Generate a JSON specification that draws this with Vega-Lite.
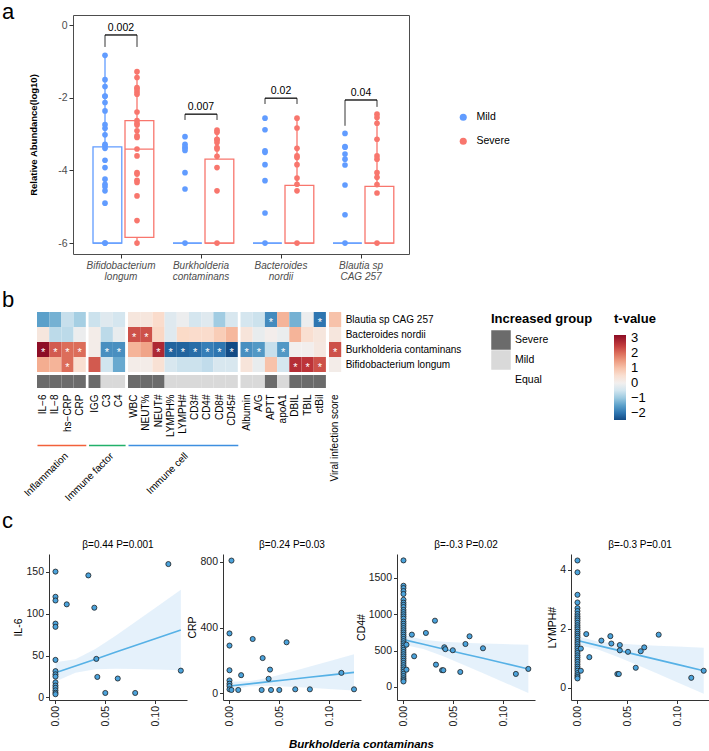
{
"$schema": "https://vega.github.io/schema/vega-lite/v6.json",
"padding": {"left": 2, "top": 0, "right": 0, "bottom": 0},
"autosize": {"type": "pad"},
"config": {
 "font": "Liberation Sans, Arial, sans-serif",
 "view": {"stroke": null},
 "axis": {"grid": false},
 "title": {"color": "black", "fontWeight": "normal"},
 "legend": {"padding": 0}
},
"datasets": {
 "pts": [
  {"t":"Bi","g":"Mild","v":-0.83},{"t":"Bi","g":"Mild","v":-1.5},{"t":"Bi","g":"Mild","v":-1.69},{"t":"Bi","g":"Mild","v":-1.95},{"t":"Bi","g":"Mild","v":-1.96},{"t":"Bi","g":"Mild","v":-2.13},{"t":"Bi","g":"Mild","v":-2.36},{"t":"Bi","g":"Mild","v":-2.74},{"t":"Bi","g":"Mild","v":-2.84},{"t":"Bi","g":"Mild","v":-3.02},{"t":"Bi","g":"Mild","v":-3.28},{"t":"Bi","g":"Mild","v":-3.32},{"t":"Bi","g":"Mild","v":-3.39},{"t":"Bi","g":"Mild","v":-3.72},{"t":"Bi","g":"Mild","v":-3.92},{"t":"Bi","g":"Mild","v":-4.24},{"t":"Bi","g":"Mild","v":-4.38},{"t":"Bi","g":"Mild","v":-4.45},{"t":"Bi","g":"Mild","v":-4.56},{"t":"Bi","g":"Mild","v":-4.9},{"t":"Bi","g":"Mild","v":-6},{"t":"Bi","g":"Mild","v":-6},
  {"t":"Bi","g":"Severe","v":-1.28},{"t":"Bi","g":"Severe","v":-1.44},{"t":"Bi","g":"Severe","v":-1.72},{"t":"Bi","g":"Severe","v":-1.76},{"t":"Bi","g":"Severe","v":-1.83},{"t":"Bi","g":"Severe","v":-1.9},{"t":"Bi","g":"Severe","v":-2.39},{"t":"Bi","g":"Severe","v":-2.63},{"t":"Bi","g":"Severe","v":-2.71},{"t":"Bi","g":"Severe","v":-2.75},{"t":"Bi","g":"Severe","v":-2.91},{"t":"Bi","g":"Severe","v":-3.05},{"t":"Bi","g":"Severe","v":-3.09},{"t":"Bi","g":"Severe","v":-3.41},{"t":"Bi","g":"Severe","v":-3.6},{"t":"Bi","g":"Severe","v":-4.06},{"t":"Bi","g":"Severe","v":-4.1},{"t":"Bi","g":"Severe","v":-4.27},{"t":"Bi","g":"Severe","v":-4.33},{"t":"Bi","g":"Severe","v":-4.7},{"t":"Bi","g":"Severe","v":-5.38},{"t":"Bi","g":"Severe","v":-6},
  {"t":"Bu","g":"Mild","v":-3.07},{"t":"Bu","g":"Mild","v":-3.28},{"t":"Bu","g":"Mild","v":-3.35},{"t":"Bu","g":"Mild","v":-3.39},{"t":"Bu","g":"Mild","v":-3.45},{"t":"Bu","g":"Mild","v":-4.06},{"t":"Bu","g":"Mild","v":-4.51},{"t":"Bu","g":"Mild","v":-6},
  {"t":"Bu","g":"Severe","v":-2.89},{"t":"Bu","g":"Severe","v":-2.95},{"t":"Bu","g":"Severe","v":-3.14},{"t":"Bu","g":"Severe","v":-3.16},{"t":"Bu","g":"Severe","v":-3.23},{"t":"Bu","g":"Severe","v":-3.37},{"t":"Bu","g":"Severe","v":-3.41},{"t":"Bu","g":"Severe","v":-3.61},{"t":"Bu","g":"Severe","v":-3.92},{"t":"Bu","g":"Severe","v":-4.56},{"t":"Bu","g":"Severe","v":-6},
  {"t":"Ba","g":"Mild","v":-2.56},{"t":"Ba","g":"Mild","v":-2.88},{"t":"Ba","g":"Mild","v":-3.46},{"t":"Ba","g":"Mild","v":-3.5},{"t":"Ba","g":"Mild","v":-3.84},{"t":"Ba","g":"Mild","v":-4.28},{"t":"Ba","g":"Mild","v":-5.17},{"t":"Ba","g":"Mild","v":-6},
  {"t":"Ba","g":"Severe","v":-2.56},{"t":"Ba","g":"Severe","v":-2.83},{"t":"Ba","g":"Severe","v":-3.39},{"t":"Ba","g":"Severe","v":-3.6},{"t":"Ba","g":"Severe","v":-3.64},{"t":"Ba","g":"Severe","v":-3.84},{"t":"Ba","g":"Severe","v":-4.21},{"t":"Ba","g":"Severe","v":-4.38},{"t":"Ba","g":"Severe","v":-4.56},{"t":"Ba","g":"Severe","v":-6},
  {"t":"Bl","g":"Mild","v":-2.98},{"t":"Bl","g":"Mild","v":-3.34},{"t":"Bl","g":"Mild","v":-3.36},{"t":"Bl","g":"Mild","v":-3.55},{"t":"Bl","g":"Mild","v":-3.69},{"t":"Bl","g":"Mild","v":-3.85},{"t":"Bl","g":"Mild","v":-4.4},{"t":"Bl","g":"Mild","v":-5.22},{"t":"Bl","g":"Mild","v":-6},
  {"t":"Bl","g":"Severe","v":-2.45},{"t":"Bl","g":"Severe","v":-2.54},{"t":"Bl","g":"Severe","v":-2.7},{"t":"Bl","g":"Severe","v":-3.14},{"t":"Bl","g":"Severe","v":-3.6},{"t":"Bl","g":"Severe","v":-3.69},{"t":"Bl","g":"Severe","v":-4.06},{"t":"Bl","g":"Severe","v":-4.19},{"t":"Bl","g":"Severe","v":-4.39},{"t":"Bl","g":"Severe","v":-4.62},{"t":"Bl","g":"Severe","v":-6}
 ],
 "box": [
  {"t":"Bi","g":"Mild","lo":-6,"q1":-6,"med":-6,"q3":-3.35,"hi":-0.85},
  {"t":"Bi","g":"Severe","lo":-6,"q1":-5.84,"med":-3.41,"q3":-2.63,"hi":-1.27},
  {"t":"Bu","g":"Mild","lo":-6,"q1":-6,"med":-6,"q3":-6,"hi":-6},
  {"t":"Bu","g":"Severe","lo":-6,"q1":-6,"med":-6,"q3":-3.69,"hi":-2.86},
  {"t":"Ba","g":"Mild","lo":-6,"q1":-6,"med":-6,"q3":-6,"hi":-6},
  {"t":"Ba","g":"Severe","lo":-6,"q1":-6,"med":-6,"q3":-4.41,"hi":-2.54},
  {"t":"Bl","g":"Mild","lo":-6,"q1":-6,"med":-6,"q3":-6,"hi":-6},
  {"t":"Bl","g":"Severe","lo":-6,"q1":-6,"med":-6,"q3":-4.44,"hi":-2.43}
 ],
 "brk": [
  {"t":"Bi","g":"Mild","top":-0.27,"bot":-0.6,"p":"0.002"},{"t":"Bi","g":"Severe","top":-0.27,"bot":-0.6,"p":"0.002"},
  {"t":"Bu","g":"Mild","top":-2.45,"bot":-2.61,"p":"0.007"},{"t":"Bu","g":"Severe","top":-2.45,"bot":-2.61,"p":"0.007"},
  {"t":"Ba","g":"Mild","top":-2.01,"bot":-2.17,"p":"0.02"},{"t":"Ba","g":"Severe","top":-2.01,"bot":-2.17,"p":"0.02"},
  {"t":"Bl","g":"Mild","top":-2.06,"bot":-2.77,"p":"0.04"},{"t":"Bl","g":"Severe","top":-2.06,"bot":-2.25,"p":"0.04"}
 ],
 "heat": [
  {"b":1,"v":"IL−6","s":"Bl","t":-1.5,"st":0},{"b":1,"v":"IL−6","s":"Ba","t":0.3,"st":0},{"b":1,"v":"IL−6","s":"Bu","t":3.2,"st":1},{"b":1,"v":"IL−6","s":"Bi","t":1.3,"st":0},
  {"b":1,"v":"IL−8","s":"Bl","t":-1.3,"st":0},{"b":1,"v":"IL−8","s":"Ba","t":-0.7,"st":0},{"b":1,"v":"IL−8","s":"Bu","t":2.2,"st":1},{"b":1,"v":"IL−8","s":"Bi","t":1.2,"st":0},
  {"b":1,"v":"hs−CRP","s":"Bl","t":-0.6,"st":0},{"b":1,"v":"hs−CRP","s":"Ba","t":-0.7,"st":0},{"b":1,"v":"hs−CRP","s":"Bu","t":2.0,"st":1},{"b":1,"v":"hs−CRP","s":"Bi","t":2.0,"st":1},
  {"b":1,"v":"CRP","s":"Bl","t":-0.9,"st":0},{"b":1,"v":"CRP","s":"Ba","t":-0.1,"st":0},{"b":1,"v":"CRP","s":"Bu","t":2.0,"st":1},{"b":1,"v":"CRP","s":"Bi","t":0.5,"st":0},
  {"b":2,"v":"IGG","s":"Bl","t":-0.55,"st":0},{"b":2,"v":"IGG","s":"Ba","t":0.1,"st":0},{"b":2,"v":"IGG","s":"Bu","t":0.1,"st":0},{"b":2,"v":"IGG","s":"Bi","t":2.2,"st":0},
  {"b":2,"v":"C3","s":"Bl","t":-0.3,"st":0},{"b":2,"v":"C3","s":"Ba","t":-0.7,"st":0},{"b":2,"v":"C3","s":"Bu","t":-1.7,"st":1},{"b":2,"v":"C3","s":"Bi","t":-0.5,"st":0},
  {"b":2,"v":"C4","s":"Bl","t":-0.45,"st":0},{"b":2,"v":"C4","s":"Ba","t":-0.15,"st":0},{"b":2,"v":"C4","s":"Bu","t":-1.7,"st":1},{"b":2,"v":"C4","s":"Bi","t":-1.4,"st":0},
  {"b":3,"v":"WBC","s":"Bl","t":0.3,"st":0},{"b":3,"v":"WBC","s":"Ba","t":2.3,"st":1},{"b":3,"v":"WBC","s":"Bu","t":1.2,"st":0},{"b":3,"v":"WBC","s":"Bi","t":0.1,"st":0},
  {"b":3,"v":"NEUT%","s":"Bl","t":0.3,"st":0},{"b":3,"v":"NEUT%","s":"Ba","t":2.3,"st":1},{"b":3,"v":"NEUT%","s":"Bu","t":1.4,"st":0},{"b":3,"v":"NEUT%","s":"Bi","t":0.1,"st":0},
  {"b":3,"v":"NEUT#","s":"Bl","t":0.6,"st":0},{"b":3,"v":"NEUT#","s":"Ba","t":0.7,"st":0},{"b":3,"v":"NEUT#","s":"Bu","t":2.8,"st":1},{"b":3,"v":"NEUT#","s":"Bi","t":0.45,"st":0},
  {"b":3,"v":"LYMPH%","s":"Bl","t":-0.3,"st":0},{"b":3,"v":"LYMPH%","s":"Ba","t":-0.3,"st":0},{"b":3,"v":"LYMPH%","s":"Bu","t":-2.2,"st":1},{"b":3,"v":"LYMPH%","s":"Bi","t":-0.4,"st":0},
  {"b":3,"v":"LYMPH#","s":"Bl","t":-0.1,"st":0},{"b":3,"v":"LYMPH#","s":"Ba","t":0.65,"st":0},{"b":3,"v":"LYMPH#","s":"Bu","t":-2.2,"st":1},{"b":3,"v":"LYMPH#","s":"Bi","t":-0.55,"st":0},
  {"b":3,"v":"CD3#","s":"Bl","t":-0.45,"st":0},{"b":3,"v":"CD3#","s":"Ba","t":0.6,"st":0},{"b":3,"v":"CD3#","s":"Bu","t":-2.1,"st":1},{"b":3,"v":"CD3#","s":"Bi","t":-0.55,"st":0},
  {"b":3,"v":"CD4#","s":"Bl","t":-0.3,"st":0},{"b":3,"v":"CD4#","s":"Ba","t":0.6,"st":0},{"b":3,"v":"CD4#","s":"Bu","t":-1.9,"st":1},{"b":3,"v":"CD4#","s":"Bi","t":-0.65,"st":0},
  {"b":3,"v":"CD8#","s":"Bl","t":-0.95,"st":0},{"b":3,"v":"CD8#","s":"Ba","t":0.85,"st":0},{"b":3,"v":"CD8#","s":"Bu","t":-2.0,"st":1},{"b":3,"v":"CD8#","s":"Bi","t":-0.4,"st":0},
  {"b":3,"v":"CD45#","s":"Bl","t":-0.4,"st":0},{"b":3,"v":"CD45#","s":"Ba","t":1.15,"st":0},{"b":3,"v":"CD45#","s":"Bu","t":-2.47,"st":1},{"b":3,"v":"CD45#","s":"Bi","t":-0.4,"st":0},
  {"b":4,"v":"Albumin","s":"Bl","t":-0.45,"st":0},{"b":4,"v":"Albumin","s":"Ba","t":0.35,"st":0},{"b":4,"v":"Albumin","s":"Bu","t":-1.7,"st":1},{"b":4,"v":"Albumin","s":"Bi","t":0.35,"st":0},
  {"b":4,"v":"A/G","s":"Bl","t":-0.55,"st":0},{"b":4,"v":"A/G","s":"Ba","t":-0.15,"st":0},{"b":4,"v":"A/G","s":"Bu","t":-1.6,"st":1},{"b":4,"v":"A/G","s":"Bi","t":-0.15,"st":0},
  {"b":4,"v":"APTT","s":"Bl","t":-1.75,"st":1},{"b":4,"v":"APTT","s":"Ba","t":0.05,"st":0},{"b":4,"v":"APTT","s":"Bu","t":-0.6,"st":0},{"b":4,"v":"APTT","s":"Bi","t":1.0,"st":0},
  {"b":4,"v":"apoA1","s":"Bl","t":1.2,"st":0},{"b":4,"v":"apoA1","s":"Ba","t":-0.12,"st":0},{"b":4,"v":"apoA1","s":"Bu","t":-1.6,"st":1},{"b":4,"v":"apoA1","s":"Bi","t":-0.45,"st":0},
  {"b":4,"v":"DBIL","s":"Bl","t":-1.3,"st":0},{"b":4,"v":"DBIL","s":"Ba","t":1.2,"st":0},{"b":4,"v":"DBIL","s":"Bu","t":0.0,"st":0},{"b":4,"v":"DBIL","s":"Bi","t":2.7,"st":1},
  {"b":4,"v":"TBIL","s":"Bl","t":-0.1,"st":0},{"b":4,"v":"TBIL","s":"Ba","t":0.5,"st":0},{"b":4,"v":"TBIL","s":"Bu","t":0.02,"st":0},{"b":4,"v":"TBIL","s":"Bi","t":2.6,"st":1},
  {"b":4,"v":"ctBil","s":"Bl","t":-2.0,"st":1},{"b":4,"v":"ctBil","s":"Ba","t":0.3,"st":0},{"b":4,"v":"ctBil","s":"Bu","t":0.25,"st":0},{"b":4,"v":"ctBil","s":"Bi","t":2.3,"st":1},
  {"b":5,"v":"Viral infection score","s":"Bl","t":1.0,"st":0},{"b":5,"v":"Viral infection score","s":"Ba","t":0.3,"st":0},{"b":5,"v":"Viral infection score","s":"Bu","t":2.3,"st":1},{"b":5,"v":"Viral infection score","s":"Bi","t":0.1,"st":0}
 ],
 "ann": [
  {"b":1,"v":"IL−6","s":"annot","g":"Severe"},{"b":1,"v":"IL−8","s":"annot","g":"Severe"},{"b":1,"v":"hs−CRP","s":"annot","g":"Severe"},{"b":1,"v":"CRP","s":"annot","g":"Severe"},
  {"b":2,"v":"IGG","s":"annot","g":"Severe"},{"b":2,"v":"C3","s":"annot","g":"Mild"},{"b":2,"v":"C4","s":"annot","g":"Mild"},
  {"b":3,"v":"WBC","s":"annot","g":"Severe"},{"b":3,"v":"NEUT%","s":"annot","g":"Severe"},{"b":3,"v":"NEUT#","s":"annot","g":"Severe"},{"b":3,"v":"LYMPH%","s":"annot","g":"Mild"},{"b":3,"v":"LYMPH#","s":"annot","g":"Mild"},{"b":3,"v":"CD3#","s":"annot","g":"Mild"},{"b":3,"v":"CD4#","s":"annot","g":"Mild"},{"b":3,"v":"CD8#","s":"annot","g":"Mild"},{"b":3,"v":"CD45#","s":"annot","g":"Mild"},
  {"b":4,"v":"Albumin","s":"annot","g":"Mild"},{"b":4,"v":"A/G","s":"annot","g":"Mild"},{"b":4,"v":"APTT","s":"annot","g":"Severe"},{"b":4,"v":"apoA1","s":"annot","g":"Mild"},{"b":4,"v":"DBIL","s":"annot","g":"Severe"},{"b":4,"v":"TBIL","s":"annot","g":"Severe"},{"b":4,"v":"ctBil","s":"annot","g":"Severe"},
  {"b":5,"v":"Viral infection score","s":"annot","g":"Equal"}
 ],
 "sc": [
  {"p":1,"x":0,"y":150},{"p":1,"x":0,"y":120},{"p":1,"x":0,"y":115.6},{"p":1,"x":0,"y":88},{"p":1,"x":0,"y":84.2},{"p":1,"x":0,"y":44.8},{"p":1,"x":0,"y":31.4},{"p":1,"x":0,"y":27.6},{"p":1,"x":0,"y":24.9},{"p":1,"x":0,"y":18},{"p":1,"x":0,"y":14.2},{"p":1,"x":0,"y":11.5},{"p":1,"x":0,"y":8.5},{"p":1,"x":0,"y":5.7},{"p":1,"x":0,"y":3.9},
  {"p":1,"x":0.0113,"y":111},{"p":1,"x":0.033,"y":145.5},{"p":1,"x":0.039,"y":107},{"p":1,"x":0.041,"y":46},{"p":1,"x":0.042,"y":24.5},{"p":1,"x":0.05,"y":5.4},{"p":1,"x":0.0625,"y":22.6},{"p":1,"x":0.08,"y":5.4},{"p":1,"x":0.1133,"y":159},{"p":1,"x":0.1258,"y":32},
  {"p":2,"x":0.002,"y":808},{"p":2,"x":0,"y":365},{"p":2,"x":0,"y":291},{"p":2,"x":0,"y":141},{"p":2,"x":0,"y":79},{"p":2,"x":0,"y":59},{"p":2,"x":0,"y":45},{"p":2,"x":0,"y":25},
  {"p":2,"x":0.002,"y":21},{"p":2,"x":0.0088,"y":21},{"p":2,"x":0.0117,"y":111},{"p":2,"x":0.0233,"y":331},{"p":2,"x":0.0323,"y":21},{"p":2,"x":0.0333,"y":215},{"p":2,"x":0.0407,"y":145},{"p":2,"x":0.0393,"y":89},{"p":2,"x":0.0417,"y":21},{"p":2,"x":0.05,"y":21},{"p":2,"x":0.0573,"y":311},{"p":2,"x":0.066,"y":25},{"p":2,"x":0.0807,"y":25},{"p":2,"x":0.1123,"y":125},{"p":2,"x":0.125,"y":25},
  {"p":3,"x":0,"y":1742},{"p":3,"x":0,"y":1393},{"p":3,"x":0,"y":1361},{"p":3,"x":0,"y":1320},{"p":3,"x":0,"y":1280},{"p":3,"x":0,"y":1200},{"p":3,"x":0,"y":1160},{"p":3,"x":0,"y":1130},{"p":3,"x":0,"y":1100},{"p":3,"x":0,"y":1060},{"p":3,"x":0,"y":1030},{"p":3,"x":0,"y":1000},{"p":3,"x":0,"y":970},{"p":3,"x":0,"y":940},{"p":3,"x":0,"y":900},{"p":3,"x":0,"y":870},{"p":3,"x":0,"y":840},{"p":3,"x":0,"y":810},{"p":3,"x":0,"y":780},{"p":3,"x":0,"y":750},{"p":3,"x":0,"y":720},{"p":3,"x":0,"y":690},{"p":3,"x":0,"y":660},{"p":3,"x":0,"y":630},{"p":3,"x":0,"y":600},{"p":3,"x":0,"y":570},{"p":3,"x":0,"y":540},{"p":3,"x":0,"y":510},{"p":3,"x":0,"y":480},{"p":3,"x":0,"y":450},{"p":3,"x":0,"y":420},{"p":3,"x":0,"y":390},{"p":3,"x":0,"y":360},{"p":3,"x":0,"y":330},{"p":3,"x":0,"y":300},{"p":3,"x":0,"y":270},{"p":3,"x":0,"y":240},{"p":3,"x":0,"y":210},{"p":3,"x":0,"y":180},{"p":3,"x":0,"y":150},{"p":3,"x":0,"y":120},{"p":3,"x":0,"y":95},{"p":3,"x":0,"y":75},
  {"p":3,"x":0.003,"y":582},{"p":3,"x":0.0084,"y":720},{"p":3,"x":0.0107,"y":422},{"p":3,"x":0.003,"y":238},{"p":3,"x":0.0225,"y":743},{"p":3,"x":0.0316,"y":912},{"p":3,"x":0.0326,"y":307},{"p":3,"x":0.0387,"y":230},{"p":3,"x":0.04,"y":230},{"p":3,"x":0.041,"y":546},{"p":3,"x":0.042,"y":520},{"p":3,"x":0.0495,"y":505},{"p":3,"x":0.057,"y":206},{"p":3,"x":0.0622,"y":591},{"p":3,"x":0.0663,"y":697},{"p":3,"x":0.0798,"y":532},{"p":3,"x":0.1128,"y":179},{"p":3,"x":0.1253,"y":248},
  {"p":4,"x":0,"y":4.31},{"p":4,"x":0,"y":3.91},{"p":4,"x":0,"y":3.15},{"p":4,"x":0,"y":2.89},{"p":4,"x":0,"y":2.7},{"p":4,"x":0,"y":2.6},{"p":4,"x":0,"y":2.5},{"p":4,"x":0,"y":2.42},{"p":4,"x":0,"y":2.35},{"p":4,"x":0,"y":2.28},{"p":4,"x":0,"y":2.2},{"p":4,"x":0,"y":2.12},{"p":4,"x":0,"y":2.05},{"p":4,"x":0,"y":1.98},{"p":4,"x":0,"y":1.9},{"p":4,"x":0,"y":1.83},{"p":4,"x":0,"y":1.76},{"p":4,"x":0,"y":1.7},{"p":4,"x":0,"y":1.62},{"p":4,"x":0,"y":1.55},{"p":4,"x":0,"y":1.48},{"p":4,"x":0,"y":1.4},{"p":4,"x":0,"y":1.33},{"p":4,"x":0,"y":1.25},{"p":4,"x":0,"y":1.18},{"p":4,"x":0,"y":1.1},{"p":4,"x":0,"y":1.03},{"p":4,"x":0,"y":0.95},{"p":4,"x":0,"y":0.88},{"p":4,"x":0,"y":0.8},{"p":4,"x":0,"y":0.72},{"p":4,"x":0,"y":0.65},{"p":4,"x":0,"y":0.58},{"p":4,"x":0,"y":0.5},{"p":4,"x":0,"y":0.43},{"p":4,"x":0,"y":0.37},{"p":4,"x":0,"y":0.32},
  {"p":4,"x":0.0034,"y":1.33},{"p":4,"x":0.0034,"y":0.58},{"p":4,"x":0.0088,"y":1.82},{"p":4,"x":0.0119,"y":1.04},{"p":4,"x":0.024,"y":1.6},{"p":4,"x":0.033,"y":1.75},{"p":4,"x":0.034,"y":1.5},{"p":4,"x":0.04,"y":0.47},{"p":4,"x":0.0415,"y":0.47},{"p":4,"x":0.0425,"y":1.45},{"p":4,"x":0.0425,"y":1.27},{"p":4,"x":0.0507,"y":1.22},{"p":4,"x":0.0585,"y":0.68},{"p":4,"x":0.0635,"y":1.24},{"p":4,"x":0.067,"y":1.37},{"p":4,"x":0.0815,"y":1.8},{"p":4,"x":0.1142,"y":0.34},{"p":4,"x":0.1267,"y":0.58}
 ],
 "fit": [
  {"p":1,"x":0,"f":29.5,"lo":19,"hi":42},{"p":1,"x":0.02,"f":37.6,"lo":29.6,"hi":45.6},{"p":1,"x":0.04,"f":45.7,"lo":33.7,"hi":57.7},{"p":1,"x":0.06,"f":53.8,"lo":34.2,"hi":73.4},{"p":1,"x":0.08,"f":61.9,"lo":33.9,"hi":89.9},{"p":1,"x":0.1,"f":70,"lo":33.3,"hi":106.7},{"p":1,"x":0.1258,"f":80.4,"lo":32.4,"hi":128.4},
  {"p":2,"x":0,"f":45,"lo":19.4,"hi":70.6},{"p":2,"x":0.02,"f":58.3,"lo":43.3,"hi":73.3},{"p":2,"x":0.04,"f":71.6,"lo":46,"hi":97.2},{"p":2,"x":0.06,"f":84.8,"lo":40.6,"hi":129},{"p":2,"x":0.08,"f":98.1,"lo":34,"hi":162},{"p":2,"x":0.1,"f":111.4,"lo":26.9,"hi":195.9},{"p":2,"x":0.125,"f":128,"lo":18,"hi":238},
  {"p":3,"x":0,"f":651,"lo":582,"hi":720},{"p":3,"x":0.02,"f":586.7,"lo":522,"hi":651},{"p":3,"x":0.04,"f":522.4,"lo":422,"hi":623},{"p":3,"x":0.06,"f":458,"lo":307,"hi":609},{"p":3,"x":0.08,"f":393.7,"lo":189,"hi":599},{"p":3,"x":0.1,"f":329.4,"lo":69,"hi":590},{"p":3,"x":0.1253,"f":248,"lo":-84,"hi":580},
  {"p":4,"x":0,"f":1.6,"lo":1.455,"hi":1.745},{"p":4,"x":0.02,"f":1.439,"lo":1.308,"hi":1.57},{"p":4,"x":0.04,"f":1.278,"lo":1.055,"hi":1.501},{"p":4,"x":0.06,"f":1.117,"lo":0.773,"hi":1.461},{"p":4,"x":0.08,"f":0.956,"lo":0.484,"hi":1.428},{"p":4,"x":0.1,"f":0.795,"lo":0.192,"hi":1.398},{"p":4,"x":0.1267,"f":0.58,"lo":-0.2,"hi":1.36}
 ]
},
"spacing": 7,
"resolve": {"scale": {"color": "independent", "fill": "independent"}},
"vconcat": [
 {
  "title": {"text": "a", "anchor": "start", "frame": "group", "fontSize": 22, "baseline": "alphabetic", "dx": -35, "offset": -28},
  "spacing": 35, "bounds": "flush",
  "hconcat": [
   {"width": 1, "height": 1, "data": {"values": [{}]}, "mark": {"type": "point", "opacity": 0}},
   {
    "width": 336, "height": 239,
    "view": {"stroke": "#4d4d4d", "strokeWidth": 1},
    "encoding": {"x": {"field": "t", "type": "nominal", "sort": ["Bi","Bu","Ba","Bl"], "scale": {"paddingInner": 0, "paddingOuter": 0.1}, "title": null,
      "axis": {"labelAngle": 0, "labelFontStyle": "italic", "labelColor": "#4d4d4d", "labelFontSize": 10, "labelLineHeight": 11.5, "tickSize": 4, "tickColor": "#333333", "domain": false, "labelPadding": 2,
        "labelExpr": "datum.value == 'Bi' ? ['Bifidobacterium', 'longum'] : datum.value == 'Bu' ? ['Burkholderia', 'contaminans'] : datum.value == 'Ba' ? ['Bacteroides', 'nordii'] : ['Blautia sp', 'CAG 257']"}}},
    "layer": [
     {"data": {"name": "box"}, "mark": {"type": "rule", "strokeWidth": 1.3},
      "encoding": {"xOffset": {"field": "g", "type": "nominal", "scale": {"domain": ["Mild","Severe"], "paddingInner": 0, "paddingOuter": 0.25}},
       "y": {"field": "lo", "type": "quantitative", "scale": {"domain": [-6.3, 0.28], "nice": false, "zero": false}, "title": "Relative Abundance(log10)",
         "axis": {"values": [0,-2,-4,-6], "labelExpr": "datum.value == 0 ? '0' : '-' + abs(datum.value)", "labelColor": "#4d4d4d", "labelFontSize": 10.5, "tickSize": 4, "tickColor": "#333333", "domain": false, "titleFontSize": 9.5, "titleFontWeight": "bold", "titleColor": "black", "titlePadding": 19, "labelPadding": 2}},
       "y2": {"field": "q1"},
       "color": {"field": "g", "type": "nominal", "scale": {"domain": ["Mild","Severe"], "range": ["#619CFF","#F8766D"]}, "legend": {"title": null, "orient": "none", "legendX": 421, "legendY": 97, "symbolType": "circle", "symbolSize": 50, "labelFontSize": 10.5, "labelColor": "black", "rowPadding": 13, "labelOffset": 8, "symbolStrokeWidth": 0}}}},
     {"data": {"name": "box"}, "mark": {"type": "rule", "strokeWidth": 1.3},
      "encoding": {"xOffset": {"field": "g", "type": "nominal"}, "y": {"field": "q3", "type": "quantitative", "title": "Relative Abundance(log10)"}, "y2": {"field": "hi"},
       "color": {"field": "g", "type": "nominal", "legend": {"title": null, "orient": "none", "legendX": 421, "legendY": 97, "symbolType": "circle", "symbolSize": 50, "labelFontSize": 10.5, "labelColor": "black", "rowPadding": 13, "labelOffset": 8, "symbolStrokeWidth": 0}}}},
     {"data": {"name": "box"}, "mark": {"type": "bar", "filled": false, "strokeWidth": 1.3, "width": {"band": 0.9}},
      "encoding": {"xOffset": {"field": "g", "type": "nominal"}, "y": {"field": "q1", "type": "quantitative", "title": "Relative Abundance(log10)"}, "y2": {"field": "q3"},
       "color": {"field": "g", "type": "nominal", "legend": {"title": null, "orient": "none", "legendX": 421, "legendY": 97, "symbolType": "circle", "symbolSize": 50, "labelFontSize": 10.5, "labelColor": "black", "rowPadding": 13, "labelOffset": 8, "symbolStrokeWidth": 0}}}},
     {"data": {"name": "box"}, "mark": {"type": "bar", "filled": false, "strokeWidth": 1.3, "width": {"band": 0.9}},
      "encoding": {"xOffset": {"field": "g", "type": "nominal"}, "y": {"field": "med", "type": "quantitative", "title": "Relative Abundance(log10)"}, "y2": {"field": "med"},
       "color": {"field": "g", "type": "nominal", "legend": {"title": null, "orient": "none", "legendX": 421, "legendY": 97, "symbolType": "circle", "symbolSize": 50, "labelFontSize": 10.5, "labelColor": "black", "rowPadding": 13, "labelOffset": 8, "symbolStrokeWidth": 0}}}},
     {"data": {"name": "pts"}, "mark": {"type": "circle", "size": 32, "opacity": 1},
      "encoding": {"xOffset": {"field": "g", "type": "nominal"}, "y": {"field": "v", "type": "quantitative", "title": "Relative Abundance(log10)"},
       "color": {"field": "g", "type": "nominal", "legend": {"title": null, "orient": "none", "legendX": 421, "legendY": 97, "symbolType": "circle", "symbolSize": 50, "labelFontSize": 10.5, "labelColor": "black", "rowPadding": 13, "labelOffset": 8, "symbolStrokeWidth": 0}}}},
     {"data": {"name": "brk"}, "mark": {"type": "rule", "color": "black", "strokeWidth": 0.8},
      "encoding": {"xOffset": {"field": "g", "type": "nominal"}, "y": {"field": "top", "type": "quantitative", "title": "Relative Abundance(log10)"}, "y2": {"field": "bot"}}},
     {"data": {"name": "brk"}, "transform": [{"filter": "datum.g == 'Mild'"}], "mark": {"type": "bar", "filled": false, "stroke": "black", "strokeWidth": 0.8, "width": {"band": 0.4}},
      "encoding": {"y": {"field": "top", "type": "quantitative", "title": "Relative Abundance(log10)"}, "y2": {"field": "top"}}},
     {"data": {"name": "brk"}, "transform": [{"filter": "datum.g == 'Mild'"}], "mark": {"type": "text", "baseline": "bottom", "dy": -2, "fontSize": 10.5, "color": "black"},
      "encoding": {"y": {"field": "top", "type": "quantitative", "title": "Relative Abundance(log10)"}, "text": {"field": "p"}}}
    ]
   }
  ]
 },
 {
  "spacing": 7,
  "vconcat": [
   {
    "title": {"text": "b", "anchor": "start", "frame": "group", "fontSize": 22, "baseline": "alphabetic", "dx": -35, "offset": -17},
    "spacing": 2.5, "bounds": "flush",
    "hconcat": [
     {"width": {"step": 12.2}, "height": {"step": 15},
      "layer": [
       {"data": {"name": "heat"}, "transform": [{"filter": "datum.b == 1"}], "mark": "rect",
        "encoding": {
         "x": {"field": "v", "type": "nominal", "scale": {"domain": ["IL−6","IL−8","hs−CRP","CRP"], "paddingInner": 0, "paddingOuter": 0},
           "axis": {"orient": "bottom", "offset": 58, "domain": true, "domainColor": "#f2613a", "domainWidth": 1.6, "domainOpacity": 1, "ticks": false, "labelAngle": -90, "labelPadding": -51, "labelFontSize": 10, "labelColor": "black", "title": "Inflammation", "titleAngle": -45, "titleAlign": "right", "titleBaseline": "middle", "titleFontWeight": "normal", "titleFontSize": 10, "titleColor": "black", "titleX": 29, "titleY": 9}},
         "y": {"field": "s", "type": "nominal", "scale": {"domain": ["Bl","Ba","Bu","Bi","annot"], "paddingInner": 0, "paddingOuter": 0}, "axis": null},
         "color": {"field": "t", "type": "quantitative", "scale": {"scheme": "redblue", "reverse": true, "domain": [-2.47, 3.22], "domainMid": 0},
           "legend": {"title": "t-value", "orient": "none", "legendX": 577, "legendY": 1, "gradientLength": 85, "gradientThickness": 12, "values": [-2,-1,0,1,2,3], "labelFontSize": 13, "titleFontSize": 13, "titleFontWeight": "bold", "titlePadding": 9, "labelOffset": 5, "direction": "vertical", "titleColor": "black", "labelColor": "black", "gradientStrokeWidth": 0}}}},
       {"data": {"name": "ann"}, "transform": [{"filter": "datum.b == 1"}], "mark": {"type": "rect", "height": {"band": 0.87}, "yOffset": 2},
        "encoding": {"x": {"field": "v", "type": "nominal"}, "y": {"field": "s", "type": "nominal"},
         "fill": {"field": "g", "type": "nominal", "scale": {"domain": ["Severe","Mild","Equal"], "range": ["#6b6b6b","#d9d9d9","#ffffff"]},
           "legend": {"title": "Increased group", "orient": "none", "legendX": 454, "legendY": 1, "symbolType": "square", "symbolSize": 380, "symbolStrokeWidth": 0, "rowPadding": 0, "labelFontSize": 10.5, "labelColor": "black", "titleFontSize": 13, "titleFontWeight": "bold", "titleColor": "black", "labelOffset": 4, "titlePadding": 4, "symbolOpacity": 1}}}},
       {"data": {"name": "heat"}, "transform": [{"filter": "datum.b == 1 && datum.st == 1"}], "mark": {"type": "text", "text": "*", "color": "white", "fontSize": 11, "dy": 3},
        "encoding": {"x": {"field": "v", "type": "nominal"}, "y": {"field": "s", "type": "nominal"}}}
      ]},
     {"width": {"step": 12.2}, "height": {"step": 15},
      "layer": [
       {"data": {"name": "heat"}, "transform": [{"filter": "datum.b == 2"}], "mark": "rect",
        "encoding": {
         "x": {"field": "v", "type": "nominal", "scale": {"domain": ["IGG","C3","C4"], "paddingInner": 0, "paddingOuter": 0},
           "axis": {"orient": "bottom", "offset": 58, "domain": true, "domainColor": "#22b06a", "domainWidth": 1.6, "domainOpacity": 1, "ticks": false, "labelAngle": -90, "labelPadding": -51, "labelFontSize": 10, "labelColor": "black", "title": "Immune factor", "titleAngle": -45, "titleAlign": "right", "titleBaseline": "middle", "titleFontWeight": "normal", "titleFontSize": 10, "titleColor": "black", "titleX": 23, "titleY": 9}},
         "y": {"field": "s", "type": "nominal", "scale": {"domain": ["Bl","Ba","Bu","Bi","annot"], "paddingInner": 0, "paddingOuter": 0}, "axis": null},
         "color": {"field": "t", "type": "quantitative", "scale": {"scheme": "redblue", "reverse": true, "domain": [-2.47, 3.22], "domainMid": 0},
           "legend": {"title": "t-value", "orient": "none", "legendX": 577, "legendY": 1, "gradientLength": 85, "gradientThickness": 12, "values": [-2,-1,0,1,2,3], "labelFontSize": 13, "titleFontSize": 13, "titleFontWeight": "bold", "titlePadding": 9, "labelOffset": 5, "direction": "vertical", "titleColor": "black", "labelColor": "black", "gradientStrokeWidth": 0}}}},
       {"data": {"name": "ann"}, "transform": [{"filter": "datum.b == 2"}], "mark": {"type": "rect", "height": {"band": 0.87}, "yOffset": 2},
        "encoding": {"x": {"field": "v", "type": "nominal"}, "y": {"field": "s", "type": "nominal"},
         "fill": {"field": "g", "type": "nominal", "scale": {"domain": ["Severe","Mild","Equal"], "range": ["#6b6b6b","#d9d9d9","#ffffff"]},
           "legend": {"title": "Increased group", "orient": "none", "legendX": 454, "legendY": 1, "symbolType": "square", "symbolSize": 380, "symbolStrokeWidth": 0, "rowPadding": 0, "labelFontSize": 10.5, "labelColor": "black", "titleFontSize": 13, "titleFontWeight": "bold", "titleColor": "black", "labelOffset": 4, "titlePadding": 4, "symbolOpacity": 1}}}},
       {"data": {"name": "heat"}, "transform": [{"filter": "datum.b == 2 && datum.st == 1"}], "mark": {"type": "text", "text": "*", "color": "white", "fontSize": 11, "dy": 3},
        "encoding": {"x": {"field": "v", "type": "nominal"}, "y": {"field": "s", "type": "nominal"}}}
      ]},
     {"width": {"step": 12.2}, "height": {"step": 15},
      "layer": [
       {"data": {"name": "heat"}, "transform": [{"filter": "datum.b == 3"}], "mark": "rect",
        "encoding": {
         "x": {"field": "v", "type": "nominal", "scale": {"domain": ["WBC","NEUT%","NEUT#","LYMPH%","LYMPH#","CD3#","CD4#","CD8#","CD45#"], "paddingInner": 0, "paddingOuter": 0},
           "axis": {"orient": "bottom", "offset": 58, "domain": true, "domainColor": "#3d8fe0", "domainWidth": 1.6, "domainOpacity": 1, "ticks": false, "labelAngle": -90, "labelPadding": -51, "labelFontSize": 10, "labelColor": "black", "title": "Immune cell", "titleAngle": -45, "titleAlign": "right", "titleBaseline": "middle", "titleFontWeight": "normal", "titleFontSize": 10, "titleColor": "black", "titleX": 58, "titleY": 9}},
         "y": {"field": "s", "type": "nominal", "scale": {"domain": ["Bl","Ba","Bu","Bi","annot"], "paddingInner": 0, "paddingOuter": 0}, "axis": null},
         "color": {"field": "t", "type": "quantitative", "scale": {"scheme": "redblue", "reverse": true, "domain": [-2.47, 3.22], "domainMid": 0},
           "legend": {"title": "t-value", "orient": "none", "legendX": 577, "legendY": 1, "gradientLength": 85, "gradientThickness": 12, "values": [-2,-1,0,1,2,3], "labelFontSize": 13, "titleFontSize": 13, "titleFontWeight": "bold", "titlePadding": 9, "labelOffset": 5, "direction": "vertical", "titleColor": "black", "labelColor": "black", "gradientStrokeWidth": 0}}}},
       {"data": {"name": "ann"}, "transform": [{"filter": "datum.b == 3"}], "mark": {"type": "rect", "height": {"band": 0.87}, "yOffset": 2},
        "encoding": {"x": {"field": "v", "type": "nominal"}, "y": {"field": "s", "type": "nominal"},
         "fill": {"field": "g", "type": "nominal", "scale": {"domain": ["Severe","Mild","Equal"], "range": ["#6b6b6b","#d9d9d9","#ffffff"]},
           "legend": {"title": "Increased group", "orient": "none", "legendX": 454, "legendY": 1, "symbolType": "square", "symbolSize": 380, "symbolStrokeWidth": 0, "rowPadding": 0, "labelFontSize": 10.5, "labelColor": "black", "titleFontSize": 13, "titleFontWeight": "bold", "titleColor": "black", "labelOffset": 4, "titlePadding": 4, "symbolOpacity": 1}}}},
       {"data": {"name": "heat"}, "transform": [{"filter": "datum.b == 3 && datum.st == 1"}], "mark": {"type": "text", "text": "*", "color": "white", "fontSize": 11, "dy": 3},
        "encoding": {"x": {"field": "v", "type": "nominal"}, "y": {"field": "s", "type": "nominal"}}}
      ]},
     {"width": {"step": 12.2}, "height": {"step": 15},
      "layer": [
       {"data": {"name": "heat"}, "transform": [{"filter": "datum.b == 4"}], "mark": "rect",
        "encoding": {
         "x": {"field": "v", "type": "nominal", "scale": {"domain": ["Albumin","A/G","APTT","apoA1","DBIL","TBIL","ctBil"], "paddingInner": 0, "paddingOuter": 0},
           "axis": {"orient": "bottom", "offset": 58, "domain": false, "ticks": false, "labelAngle": -90, "labelPadding": -51, "labelFontSize": 10, "labelColor": "black", "title": null}},
         "y": {"field": "s", "type": "nominal", "scale": {"domain": ["Bl","Ba","Bu","Bi","annot"], "paddingInner": 0, "paddingOuter": 0}, "axis": null},
         "color": {"field": "t", "type": "quantitative", "scale": {"scheme": "redblue", "reverse": true, "domain": [-2.47, 3.22], "domainMid": 0},
           "legend": {"title": "t-value", "orient": "none", "legendX": 577, "legendY": 1, "gradientLength": 85, "gradientThickness": 12, "values": [-2,-1,0,1,2,3], "labelFontSize": 13, "titleFontSize": 13, "titleFontWeight": "bold", "titlePadding": 9, "labelOffset": 5, "direction": "vertical", "titleColor": "black", "labelColor": "black", "gradientStrokeWidth": 0}}}},
       {"data": {"name": "ann"}, "transform": [{"filter": "datum.b == 4"}], "mark": {"type": "rect", "height": {"band": 0.87}, "yOffset": 2},
        "encoding": {"x": {"field": "v", "type": "nominal"}, "y": {"field": "s", "type": "nominal"},
         "fill": {"field": "g", "type": "nominal", "scale": {"domain": ["Severe","Mild","Equal"], "range": ["#6b6b6b","#d9d9d9","#ffffff"]},
           "legend": {"title": "Increased group", "orient": "none", "legendX": 454, "legendY": 1, "symbolType": "square", "symbolSize": 380, "symbolStrokeWidth": 0, "rowPadding": 0, "labelFontSize": 10.5, "labelColor": "black", "titleFontSize": 13, "titleFontWeight": "bold", "titleColor": "black", "labelOffset": 4, "titlePadding": 4, "symbolOpacity": 1}}}},
       {"data": {"name": "heat"}, "transform": [{"filter": "datum.b == 4 && datum.st == 1"}], "mark": {"type": "text", "text": "*", "color": "white", "fontSize": 11, "dy": 3},
        "encoding": {"x": {"field": "v", "type": "nominal"}, "y": {"field": "s", "type": "nominal"}}}
      ]},
     {"width": {"step": 12.2}, "height": {"step": 15},
      "layer": [
       {"data": {"name": "heat"}, "transform": [{"filter": "datum.b == 5"}], "mark": "rect",
        "encoding": {
         "x": {"field": "v", "type": "nominal", "scale": {"domain": ["Viral infection score"], "paddingInner": 0, "paddingOuter": 0},
           "axis": {"orient": "bottom", "offset": 58, "domain": false, "ticks": false, "labelAngle": -90, "labelPadding": -51, "labelFontSize": 10, "labelColor": "black", "title": null}},
         "y": {"field": "s", "type": "nominal", "scale": {"domain": ["Bl","Ba","Bu","Bi","annot"], "paddingInner": 0, "paddingOuter": 0},
           "axis": {"orient": "right", "title": null, "domain": false, "ticks": false, "labelPadding": 4, "labelFontSize": 10, "labelColor": "black",
             "labelExpr": "datum.value == 'Bl' ? 'Blautia sp CAG 257' : datum.value == 'Ba' ? 'Bacteroides nordii' : datum.value == 'Bu' ? 'Burkholderia contaminans' : datum.value == 'Bi' ? 'Bifidobacterium longum' : ''"}},
         "color": {"field": "t", "type": "quantitative", "scale": {"scheme": "redblue", "reverse": true, "domain": [-2.47, 3.22], "domainMid": 0},
           "legend": {"title": "t-value", "orient": "none", "legendX": 577, "legendY": 1, "gradientLength": 85, "gradientThickness": 12, "values": [-2,-1,0,1,2,3], "labelFontSize": 13, "titleFontSize": 13, "titleFontWeight": "bold", "titlePadding": 9, "labelOffset": 5, "direction": "vertical", "titleColor": "black", "labelColor": "black", "gradientStrokeWidth": 0}}}},
       {"data": {"name": "ann"}, "transform": [{"filter": "datum.b == 5"}], "mark": {"type": "rect", "height": {"band": 0.87}, "yOffset": 2},
        "encoding": {"x": {"field": "v", "type": "nominal"}, "y": {"field": "s", "type": "nominal"},
         "fill": {"field": "g", "type": "nominal", "scale": {"domain": ["Severe","Mild","Equal"], "range": ["#6b6b6b","#d9d9d9","#ffffff"]},
           "legend": {"title": "Increased group", "orient": "none", "legendX": 454, "legendY": 1, "symbolType": "square", "symbolSize": 380, "symbolStrokeWidth": 0, "rowPadding": 0, "labelFontSize": 10.5, "labelColor": "black", "titleFontSize": 13, "titleFontWeight": "bold", "titleColor": "black", "labelOffset": 4, "titlePadding": 4, "symbolOpacity": 1}}}},
       {"data": {"name": "heat"}, "transform": [{"filter": "datum.b == 5 && datum.st == 1"}], "mark": {"type": "text", "text": "*", "color": "white", "fontSize": 11, "dy": 3},
        "encoding": {"x": {"field": "v", "type": "nominal"}, "y": {"field": "s", "type": "nominal"}}}
      ]}
    ]
   },
   {
    "title": {"text": "c", "anchor": "start", "frame": "group", "fontSize": 22, "baseline": "alphabetic", "dx": -35, "offset": -10},
    "spacing": 11, "bounds": "flush",
    "hconcat": [
     {"width": 1, "height": 1, "data": {"values": [{}]}, "mark": {"type": "point", "opacity": 0}},
     {
      "spacing": 36, "bounds": "flush",
      "title": {"text": "Burkholderia contaminans", "orient": "bottom", "anchor": "middle", "fontSize": 11.5, "fontWeight": "bold", "fontStyle": "italic", "offset": 13},
      "hconcat": [
       {"width": 138, "height": 146,
        "title": {"text": "β=0.44 P=0.001", "fontSize": 10, "offset": 4},
        "layer": [
         {"data": {"name": "fit"}, "transform": [{"filter": "datum.p == 1"}], "mark": {"type": "area", "color": "#cfe6f7", "opacity": 0.55},
          "encoding": {"x": {"field": "x", "type": "quantitative", "scale": {"domain": [-0.0065, 0.132], "nice": false, "zero": false}, "title": null,
             "axis": {"values": [0, 0.05, 0.1], "format": ".2f", "labelAngle": -90, "labelFontSize": 10.5, "labelColor": "#1a1a1a", "tickSize": 3.5, "tickColor": "#333333", "domainColor": "#333333", "labelPadding": 2}},
           "y": {"field": "lo", "type": "quantitative", "scale": {"domain": [-3, 171], "nice": false, "zero": false}, "title": "IL-6",
             "axis": {"values": [0, 50, 100, 150], "format": "d", "labelFontSize": 10.5, "labelColor": "#1a1a1a", "tickSize": 3.5, "tickColor": "#333333", "domainColor": "#333333", "titleFontSize": 10.5, "titleFontWeight": "normal", "titleColor": "black", "titlePadding": 2, "labelPadding": 2}},
           "y2": {"field": "hi"}}},
         {"data": {"name": "fit"}, "transform": [{"filter": "datum.p == 1"}], "mark": {"type": "line", "color": "#56b1e6", "strokeWidth": 1.6},
          "encoding": {"x": {"field": "x", "type": "quantitative", "title": null}, "y": {"field": "f", "type": "quantitative", "title": "IL-6"}}},
         {"data": {"name": "sc"}, "transform": [{"filter": "datum.p == 1"}], "mark": {"type": "circle", "size": 26, "color": "#4ba3dc", "stroke": "#1f1f1f", "strokeWidth": 0.8, "opacity": 1},
          "encoding": {"x": {"field": "x", "type": "quantitative", "title": null}, "y": {"field": "y", "type": "quantitative", "title": "IL-6"}}}
        ]},
       {"width": 138, "height": 146,
        "title": {"text": "β=0.24 P=0.03", "fontSize": 10, "offset": 4},
        "layer": [
         {"data": {"name": "fit"}, "transform": [{"filter": "datum.p == 2"}], "mark": {"type": "area", "color": "#cfe6f7", "opacity": 0.55},
          "encoding": {"x": {"field": "x", "type": "quantitative", "scale": {"domain": [-0.0065, 0.132], "nice": false, "zero": false}, "title": null,
             "axis": {"values": [0, 0.05, 0.1], "format": ".2f", "labelAngle": -90, "labelFontSize": 10.5, "labelColor": "#1a1a1a", "tickSize": 3.5, "tickColor": "#333333", "domainColor": "#333333", "labelPadding": 2}},
           "y": {"field": "lo", "type": "quantitative", "scale": {"domain": [-40, 848], "nice": false, "zero": false}, "title": "CRP",
             "axis": {"values": [0, 200, 400, 600, 800], "format": "d", "labelFontSize": 10.5, "labelColor": "#1a1a1a", "tickSize": 3.5, "tickColor": "#333333", "domainColor": "#333333", "titleFontSize": 10.5, "titleFontWeight": "normal", "titleColor": "black", "titlePadding": 2, "labelPadding": 2}},
           "y2": {"field": "hi"}}},
         {"data": {"name": "fit"}, "transform": [{"filter": "datum.p == 2"}], "mark": {"type": "line", "color": "#56b1e6", "strokeWidth": 1.6},
          "encoding": {"x": {"field": "x", "type": "quantitative", "title": null}, "y": {"field": "f", "type": "quantitative", "title": "CRP"}}},
         {"data": {"name": "sc"}, "transform": [{"filter": "datum.p == 2"}], "mark": {"type": "circle", "size": 26, "color": "#4ba3dc", "stroke": "#1f1f1f", "strokeWidth": 0.8, "opacity": 1},
          "encoding": {"x": {"field": "x", "type": "quantitative", "title": null}, "y": {"field": "y", "type": "quantitative", "title": "CRP"}}}
        ]},
       {"width": 138, "height": 146,
        "title": {"text": "β=-0.3 P=0.02", "fontSize": 10, "offset": 4},
        "layer": [
         {"data": {"name": "fit"}, "transform": [{"filter": "datum.p == 3"}], "mark": {"type": "area", "color": "#cfe6f7", "opacity": 0.55},
          "encoding": {"x": {"field": "x", "type": "quantitative", "scale": {"domain": [-0.0065, 0.132], "nice": false, "zero": false}, "title": null,
             "axis": {"values": [0, 0.05, 0.1], "format": ".2f", "labelAngle": -90, "labelFontSize": 10.5, "labelColor": "#1a1a1a", "tickSize": 3.5, "tickColor": "#333333", "domainColor": "#333333", "labelPadding": 2}},
           "y": {"field": "lo", "type": "quantitative", "scale": {"domain": [-180, 1830], "nice": false, "zero": false}, "title": "CD4#",
             "axis": {"values": [0, 500, 1000, 1500], "format": "d", "labelFontSize": 10.5, "labelColor": "#1a1a1a", "tickSize": 3.5, "tickColor": "#333333", "domainColor": "#333333", "titleFontSize": 10.5, "titleFontWeight": "normal", "titleColor": "black", "titlePadding": 2, "labelPadding": 2}},
           "y2": {"field": "hi"}}},
         {"data": {"name": "fit"}, "transform": [{"filter": "datum.p == 3"}], "mark": {"type": "line", "color": "#56b1e6", "strokeWidth": 1.6},
          "encoding": {"x": {"field": "x", "type": "quantitative", "title": null}, "y": {"field": "f", "type": "quantitative", "title": "CD4#"}}},
         {"data": {"name": "sc"}, "transform": [{"filter": "datum.p == 3"}], "mark": {"type": "circle", "size": 26, "color": "#4ba3dc", "stroke": "#1f1f1f", "strokeWidth": 0.8, "opacity": 1},
          "encoding": {"x": {"field": "x", "type": "quantitative", "title": null}, "y": {"field": "y", "type": "quantitative", "title": "CD4#"}}}
        ]},
       {"width": 138, "height": 146,
        "title": {"text": "β=-0.3 P=0.01", "fontSize": 10, "offset": 4},
        "layer": [
         {"data": {"name": "fit"}, "transform": [{"filter": "datum.p == 4"}], "mark": {"type": "area", "color": "#cfe6f7", "opacity": 0.55},
          "encoding": {"x": {"field": "x", "type": "quantitative", "scale": {"domain": [-0.0065, 0.132], "nice": false, "zero": false}, "title": null,
             "axis": {"values": [0, 0.05, 0.1], "format": ".2f", "labelAngle": -90, "labelFontSize": 10.5, "labelColor": "#1a1a1a", "tickSize": 3.5, "tickColor": "#333333", "domainColor": "#333333", "labelPadding": 2}},
           "y": {"field": "lo", "type": "quantitative", "scale": {"domain": [-0.41, 4.53], "nice": false, "zero": false}, "title": "LYMPH#",
             "axis": {"values": [0, 1, 2, 3, 4], "format": "d", "labelFontSize": 10.5, "labelColor": "#1a1a1a", "tickSize": 3.5, "tickColor": "#333333", "domainColor": "#333333", "titleFontSize": 10.5, "titleFontWeight": "normal", "titleColor": "black", "titlePadding": 2, "labelPadding": 2}},
           "y2": {"field": "hi"}}},
         {"data": {"name": "fit"}, "transform": [{"filter": "datum.p == 4"}], "mark": {"type": "line", "color": "#56b1e6", "strokeWidth": 1.6},
          "encoding": {"x": {"field": "x", "type": "quantitative", "title": null}, "y": {"field": "f", "type": "quantitative", "title": "LYMPH#"}}},
         {"data": {"name": "sc"}, "transform": [{"filter": "datum.p == 4"}], "mark": {"type": "circle", "size": 26, "color": "#4ba3dc", "stroke": "#1f1f1f", "strokeWidth": 0.8, "opacity": 1},
          "encoding": {"x": {"field": "x", "type": "quantitative", "title": null}, "y": {"field": "y", "type": "quantitative", "title": "LYMPH#"}}}
        ]}
      ]
     }
    ]
   }
  ]
 }
]
}
